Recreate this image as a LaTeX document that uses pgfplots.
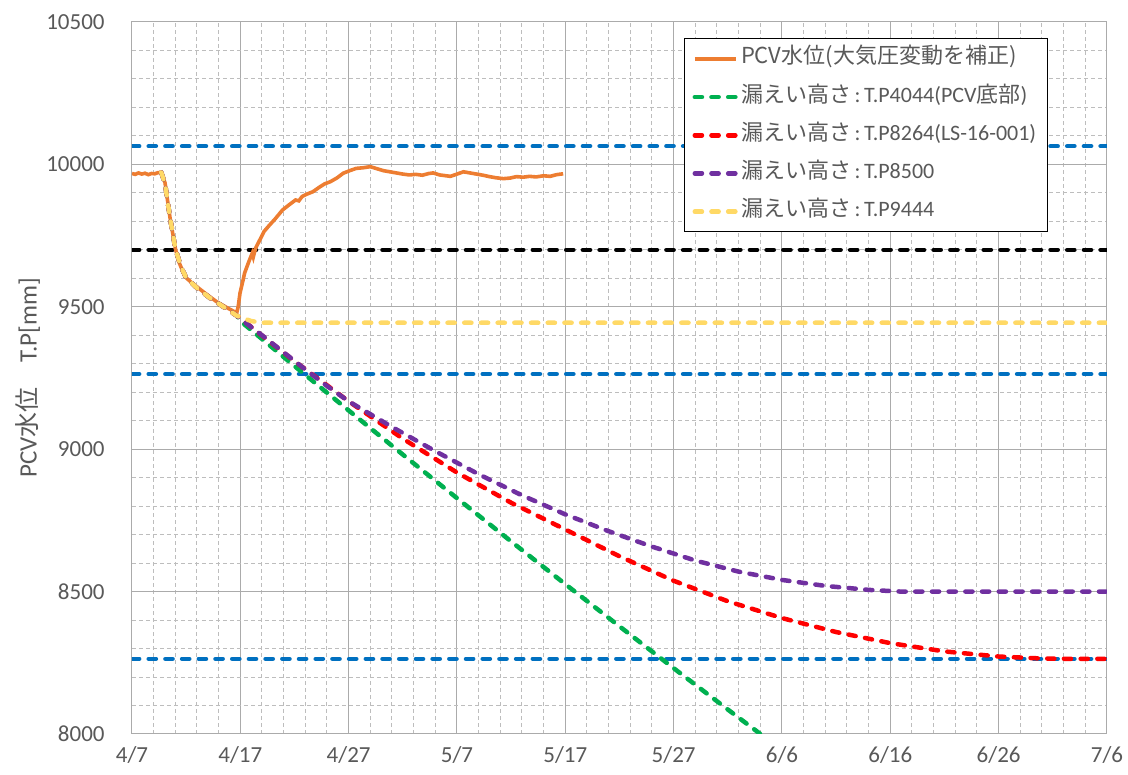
\documentclass[border=0pt]{standalone}
\usepackage{fontspec}
\setmainfont{Carlito}
\newfontfamily\jp{Noto Sans CJK JP}
\usepackage{pgfplots}
\pgfplotsset{compat=1.18}
\definecolor{txt}{HTML}{595959}
\definecolor{gridmaj}{HTML}{ABABAB}
\definecolor{gridmin}{HTML}{BDBDBD}
\definecolor{pcv}{HTML}{ED7D31}
\definecolor{lgreen}{HTML}{00B050}
\definecolor{lred}{HTML}{FF0000}
\definecolor{lpurple}{HTML}{7030A0}
\definecolor{lyellow}{HTML}{FFD966}
\definecolor{lblue}{HTML}{0070C0}
\pgfplotsset{dline/.style={line width=2.25pt, line cap=round, dash pattern=on 3.6pt off 4.75pt}}

\begin{document}
\begin{tikzpicture}
\path[use as bounding box] (-66pt,-20.5pt) rectangle (498pt,367pt);
\begin{axis}[
  at={(0pt,0pt)}, anchor=south west,
  scale only axis, width=487.5pt, height=356pt,
  xmin=0, xmax=90, ymin=8000, ymax=10500,
  xtick={0,10,...,90},
  xticklabels={4/7,4/17,4/27,5/7,5/17,5/27,6/6,6/16,6/26,7/6},
  ytick={8000,8500,...,10500},
  yticklabels={8000,8500,9000,9500,10000,10500},
  scaled y ticks=false,
  minor x tick num=4, minor y tick num=4,
  grid=both,
  major grid style={draw=gridmaj, line width=0.5pt},
  minor grid style={draw=gridmin, line width=0.5pt, dash pattern=on 2pt off 1.5pt},
  axis line style={draw=gridmaj, line width=0.5pt},
  major tick length=0pt, minor tick length=0pt,
  tick label style={font=\fontsize{11.5}{13}\selectfont, text=txt},
  xticklabel style={anchor=center, yshift=-10.5pt},
  yticklabel style={anchor=east, inner sep=0pt, xshift=-13.5pt},
  ylabel={PCV{\jp 水位　}T.P[mm]},
  ylabel style={at={(axis description cs:-0.1067,0.5)}, anchor=center, font=\fontsize{12.5}{14}\selectfont, text=txt},
  legend cell align=left,
  legend image code/.code={\draw[#1] (0pt,0pt) -- (20.5pt,0pt);},
  legend style={at={(0.5662,0.977)}, anchor=north west, draw=black, line width=0.5pt, fill=white,
    font=\fontsize{11}{13}\selectfont, text=txt, inner xsep=4pt, inner ysep=5pt, row sep=9.1pt,
    nodes={inner ysep=0pt, inner xsep=1.5pt, text height=7.5pt, text depth=2.5pt}},
]
% reference levels
\addplot[forget plot, dline, lblue] coordinates {(0,10064) (90,10064)};
\addplot[forget plot, dline, black] coordinates {(0,9700) (90,9700)};
\addplot[forget plot, dline, lblue] coordinates {(0,9264) (90,9264)};
\addplot[forget plot, dline, lblue] coordinates {(0,8264) (90,8264)};

% PCV water level
\addplot[pcv, line width=1.8pt] coordinates {
(0.0,9968) (0.3,9965) (0.6,9970) (0.9,9966) (1.2,9969) (1.5,9964) (1.8,9968) (2.1,9967) (2.4,9971) (2.7,9972)
(3.05,9935) (3.5,9815) (4.0,9705) (4.3,9660) (4.9,9605) (5.5,9585) (6.0,9570) (6.6,9552) (7.2,9535) (7.8,9518)
(8.4,9505) (9.0,9492) (9.5,9482) (9.66,9477) (9.8,9500) (9.97,9548) (10.2,9585) (10.4,9619) (10.8,9660) (11.1,9688)
(11.2,9675) (11.4,9705) (11.8,9735) (12.2,9765) (12.7,9787) (13.2,9808) (13.9,9840) (14.5,9858) (15.1,9875) (15.4,9872)
(15.7,9887) (16.1,9895) (16.7,9904) (17.3,9920) (17.8,9932) (18.3,9939) (18.9,9952) (19.5,9969) (20.1,9978) (20.7,9986)
(21.3,9988) (22.0,9992) (22.6,9985) (23.2,9978) (23.8,9974) (24.4,9970) (25.0,9966) (25.6,9963) (26.2,9965) (26.8,9962)
(27.4,9968) (27.8,9970) (28.4,9963) (29.0,9960) (29.4,9958) (30.0,9966) (30.6,9974) (31.2,9970) (31.8,9966) (32.4,9962)
(33.0,9957) (33.6,9953) (34.3,9950) (34.9,9952) (35.5,9957) (36.1,9955) (36.7,9958) (37.3,9956) (38.0,9960) (38.6,9958)
(39.2,9964) (39.8,9967)
};
\addlegendentry{{\jp PCV水位(大気圧変動を補正)}}

\addplot[lgreen, dline] coordinates {
(2.7,9972) (3.05,9932) (3.5,9815) (4.0,9705) (4.5,9642) (5.0,9602) (6.0,9566) (7.2,9531) (8.4,9501) (9.7,9468)
(10,9450) (12,9387) (15,9292) (20,9136) (25,8981) (30,8828) (35,8676) (40,8526) (45,8378) (50,8231) (55,8086) (60,7943)
};
\addlegendentry{{\jp 漏えい高さ}\,:\,T.P4044(PCV{\jp 底部})}

\addplot[lred, dline] coordinates {
(2.7,9972) (3.05,9932) (3.5,9815) (4.0,9705) (4.5,9642) (5.0,9602) (6.0,9566) (7.2,9531) (8.4,9501) (9.7,9468)
(10,9460) (12,9399) (15,9309) (20,9168) (25,9037) (30,8918) (35,8812) (40,8718) (45,8624) (50,8538) (55,8466)
(60,8407) (65,8358) (70,8319) (75,8290) (80,8272) (84,8265) (86.4,8264) (90,8264)
};
\addlegendentry{{\jp 漏えい高さ}\,:\,T.P8264(LS-16-001)}

\addplot[lpurple, dline] coordinates {
(2.7,9972) (3.05,9932) (3.5,9815) (4.0,9705) (4.5,9642) (5.0,9602) (6.0,9566) (7.2,9531) (8.4,9501) (9.7,9468)
(10,9458) (12,9400) (14,9340) (16,9280) (18,9222) (20,9168) (24,9078) (28,8993) (32,8912) (36,8838) (40,8771)
(44,8712) (48,8658) (52,8609) (56,8570) (60,8541) (64,8520) (68,8506) (71,8500) (90,8500)
};
\addlegendentry{{\jp 漏えい高さ}\,:\,T.P8500}

\addplot[lyellow, dline] coordinates {
(2.7,9972) (3.05,9932) (3.5,9815) (4.0,9705) (4.5,9642) (5.0,9602) (6.0,9566) (7.2,9531) (8.4,9501) (9.7,9468)
(11,9450) (12,9444) (90,9444)
};
\addlegendentry{{\jp 漏えい高さ}\,:\,T.P9444}
\end{axis}
\end{tikzpicture}
\end{document}
